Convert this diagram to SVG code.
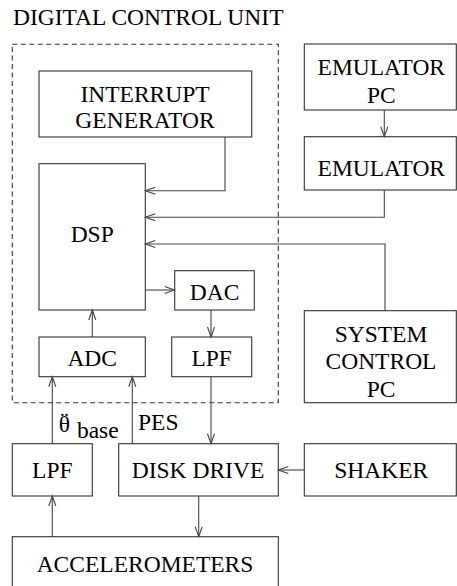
<svg xmlns="http://www.w3.org/2000/svg" width="457" height="586" viewBox="0 0 457 586">
<style>
.box{fill:#fff;stroke:#333;stroke-width:1.1}
.ln{fill:none;stroke:#444;stroke-width:1.1}
.t{font-family:'Liberation Serif','Times New Roman','DejaVu Serif',serif;font-size:23.5px;fill:#000;text-anchor:middle}
</style>
<defs>
<marker id="ah" markerUnits="userSpaceOnUse" markerWidth="14" markerHeight="10" viewBox="-12 -5 14 10" refX="0" refY="0" orient="auto">
<path d="M-10,-3.5 L0,0 L-10,3.5" fill="none" stroke="#444" stroke-width="1.1"/>
</marker>
</defs>
<rect x="0" y="0" width="457" height="586" fill="#fff"/>
<text class="t" x="13" y="25" style="text-anchor:start">DIGITAL CONTROL UNIT</text>
<rect id="dcu" x="12.3" y="44.3" width="266" height="358.4" fill="none" stroke="#333" stroke-width="1.1" stroke-dasharray="5,3.5"/>
<g id="interrupt"><rect class="box" x="39" y="71" width="212.7" height="66"/><text class="t" x="145" y="102.3">INTERRUPT</text><text class="t" x="145" y="128.3">GENERATOR</text></g>
<g id="dsp"><rect class="box" x="39" y="163.7" width="106.3" height="146.3"/><text class="t" x="92.2" y="242.3">DSP</text></g>
<g id="dac"><rect class="box" x="174.7" y="270.7" width="79.6" height="39.3"/><text class="t" x="214.5" y="300">DAC</text></g>
<g id="adc"><rect class="box" x="39" y="337" width="106.3" height="39.7"/><text class="t" x="92.2" y="366">ADC</text></g>
<g id="lpf1"><rect class="box" x="171.7" y="337" width="80" height="39.7"/><text class="t" x="211.7" y="366">LPF</text></g>
<g id="emupc"><rect class="box" x="304.3" y="44" width="152" height="66"/><text class="t" x="381.3" y="75">EMULATOR</text><text class="t" x="381.3" y="103.3">PC</text></g>
<g id="emu"><rect class="box" x="304.3" y="136.7" width="152" height="53.3"/><text class="t" x="381.3" y="176">EMULATOR</text></g>
<g id="scpc"><rect class="box" x="304.3" y="310.7" width="152" height="92"/><text class="t" x="381" y="342.3">SYSTEM</text><text class="t" x="381" y="369.3">CONTROL</text><text class="t" x="381" y="396.7">PC</text></g>
<g id="lpf2"><rect class="box" x="12.3" y="443.7" width="80" height="52.3"/><text class="t" x="52.3" y="478.3">LPF</text></g>
<g id="disk"><rect class="box" x="118.7" y="443.7" width="159.6" height="52.3"/><text class="t" x="198" y="478.3">DISK DRIVE</text></g>
<g id="shaker"><rect class="box" x="304.3" y="443.7" width="152" height="52.3"/><text class="t" x="381.3" y="478.3">SHAKER</text></g>
<g id="accel"><rect class="box" x="12.3" y="536.7" width="266" height="60"/><text class="t" x="145" y="571.7">ACCELEROMETERS</text></g>
<g id="connectors">
<path class="ln" d="M225,137 V190.7 H145.3" marker-end="url(#ah)"/>
<path class="ln" d="M384.3,190 V217.3 H145.3" marker-end="url(#ah)"/>
<path class="ln" d="M385,310.7 V244 H145.3" marker-end="url(#ah)"/>
<path class="ln" d="M384.3,110 V136.7" marker-end="url(#ah)"/>
<path class="ln" d="M145.3,290 H174.7" marker-end="url(#ah)"/>
<path class="ln" d="M92.3,337 V310" marker-end="url(#ah)"/>
<path class="ln" d="M211,310 V337" marker-end="url(#ah)"/>
<path class="ln" d="M211,376.7 V443.7" marker-end="url(#ah)"/>
<path class="ln" d="M52.3,443.7 V376.7" marker-end="url(#ah)"/>
<path class="ln" d="M132.3,443.7 V376.7" marker-end="url(#ah)"/>
<path class="ln" d="M304.3,470 H278.3" marker-end="url(#ah)"/>
<path class="ln" d="M52.3,536.7 V496" marker-end="url(#ah)"/>
<path class="ln" d="M198.7,496 V536.7" marker-end="url(#ah)"/>
</g>
<g id="labels">
<text class="t" x="64.5" y="432">θ<tspan x="64.5" y="428">¨</tspan></text>
<text class="t" x="97.8" y="438.3">base</text>
<text class="t" x="158.3" y="430">PES</text>
</g>
</svg>
